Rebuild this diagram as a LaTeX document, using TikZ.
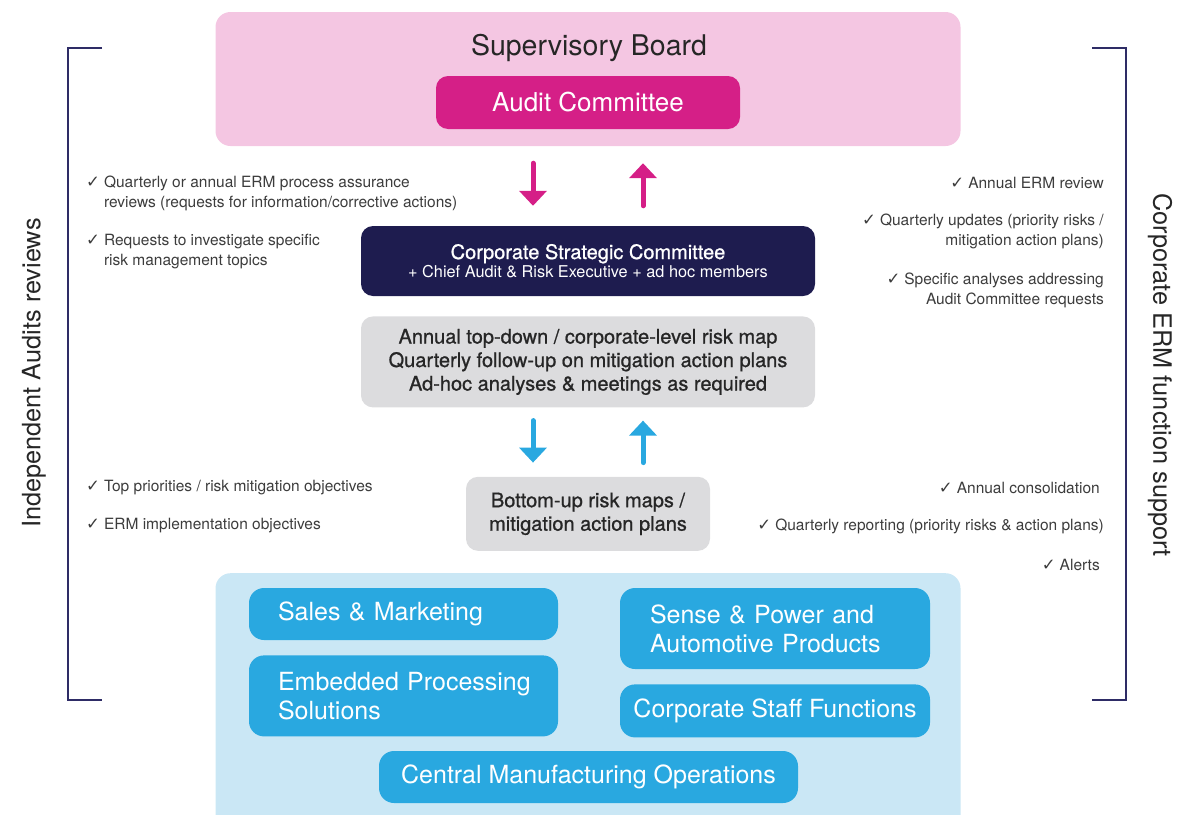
\documentclass[tikz,border=0pt]{standalone}
\usepackage{fontspec}
\setmainfont{TeX Gyre Heros}
\newfontfamily\mediumfont{TeX Gyre Heros}[FakeBold=0.9]
\newfontfamily\symbolfont{DejaVu Sans}
\usepackage{xcolor}
\usetikzlibrary{positioning,arrows.meta}

\definecolor{boardpink}{HTML}{F4C6E2}
\definecolor{auditmag}{HTML}{D51F87}
\definecolor{cscnavy}{HTML}{1E1C4F}
\definecolor{mapgray}{HTML}{DCDCDE}
\definecolor{unitsky}{HTML}{CAE7F5}
\definecolor{unitblue}{HTML}{29A8E0}
\definecolor{bracketnavy}{HTML}{2E2C66}
\definecolor{notegray}{HTML}{3C3C3C}

\newcommand{\tick}{{\symbolfont\fontsize{16.5}{16}\selectfont ✓}}

\tikzset{
  panel/.style={
    rounded corners=15pt,
    inner sep=0pt
  },
  committee/.style={
    rounded corners=12pt,
    align=center,
    inner sep=0pt
  },
  mapbox/.style={
    committee,
    fill=mapgray,
    text=black!85,
    font=\mediumfont\fontsize{20}{23.5}\selectfont
  },
  unit/.style={
    rounded corners=15pt,
    fill=unitblue,
    text=white,
    minimum width=309pt,
    font=\fontsize{25}{29}\selectfont,
    inner xsep=29pt
  },
  note/.style={
    inner sep=0pt,
    text=notegray,
    font=\fontsize{15.5}{20}\selectfont
  },
  side/.style={
    text=black!85,
    font=\fontsize{25.3}{28}\selectfont
  },
  bracket/.style={
    bracketnavy,
    line width=1.6pt
  },
  flow/.style={
    line width=5pt,
    line cap=round,
    -{Triangle[width=27pt,length=15pt]}
  }
}

\begin{document}
\begin{tikzpicture}[x=1pt,y=-1pt]
\useasboundingbox (0,0) rectangle (1198,814);

% board on top
\node[panel, fill=boardpink, minimum width=745pt, minimum height=134pt] (board) at (588,79) {};
\node[text=black!85, font=\fontsize{28.5}{30}\selectfont] (boardtitle) at (589,48) {Supervisory Board};
\node[committee, fill=auditmag, text=white, minimum width=304pt, minimum height=53pt,
  font=\fontsize{26}{28}\selectfont] (audit) at (588,102.5) {Audit Committee};

% committee and risk maps
\node[committee, fill=cscnavy, text=white, minimum width=454pt, minimum height=70pt] (csc) at (588,261)
  {{\mediumfont\fontsize{20}{22}\selectfont Corporate Strategic Committee}\\[1pt]
   {\fontsize{16.3}{17}\selectfont + Chief Audit \& Risk Executive + ad hoc members}};
\node[mapbox, minimum width=454pt, minimum height=91pt, below=20pt of csc] (riskmap)
  {Annual top-down / corporate-level risk map\\
   Quarterly follow-up on mitigation action plans\\
   Ad-hoc analyses \& meetings as required};
\node[mapbox, minimum width=244pt, minimum height=74pt, below=69pt of riskmap] (bottomup)
  {Bottom-up risk maps /\\mitigation action plans};

% operating units
\node[panel, fill=unitsky, minimum width=745pt, minimum height=260pt, anchor=north] (units) at (588,573) {};
\node[unit, text width=251pt, align=left, minimum height=52pt] (sales) at (403.5,614) {Sales \& Marketing};
\node[unit, text width=251pt, align=left, minimum height=81pt, below=15pt of sales] (embedded)
  {\mbox{Embedded Processing}\\Solutions};
\node[unit, text width=250pt, align=left, minimum width=310pt, minimum height=81pt] (sense) at (775,628.5)
  {Sense \& Power and\\Automotive Products};
\node[unit, inner xsep=0pt, minimum width=310pt, minimum height=53pt, below=15pt of sense] (staff)
  {Corporate Staff Functions};
\node[unit, inner xsep=0pt, minimum width=419pt, minimum height=52pt] (cmo) at (588.5,777)
  {Central Manufacturing Operations};

% flows
\draw[flow, auditmag, shorten <=17pt, shorten >=20pt] ([xshift=-55pt]board.south) -- ([xshift=-55pt]csc.north);
\draw[flow, auditmag, shorten <=20pt, shorten >=17pt] ([xshift=55pt]csc.north) -- ([xshift=55pt]board.south);
\draw[flow, unitblue, shorten <=13pt, shorten >=14pt] ([xshift=-55pt]riskmap.south) -- ([xshift=-55pt]bottomup.north);
\draw[flow, unitblue, shorten <=14pt, shorten >=13pt] ([xshift=55pt]bottomup.north) -- ([xshift=55pt]riskmap.south);

% brackets at the sides
\coordinate (lt) at (102,48);
\coordinate (lb) at (102,700);
\coordinate (rt) at (1092,48);
\coordinate (rb) at (1092,700);
\draw[bracket] (lt) -- ++(-34,0) |- (lb);
\draw[bracket] (rt) -- ++(34,0) |- (rb);
\node[side, rotate=90] (audits) at (34,373) {Independent Audits reviews};
\node[side, rotate=-90] (ermsupport) at (1160,375) {Corporate ERM function support};

% left notes
\node[note, anchor=west] (n1) at (86,193) {\begin{tabular}{@{}l@{\hspace{4pt}}l@{}}
  \tick & Quarterly or annual ERM process assurance\\
        & reviews (requests for information/corrective actions)\end{tabular}};
\node[note, anchor=west] (n2) at (86,251) {\begin{tabular}{@{}l@{\hspace{4pt}}l@{}}
  \tick & Requests to investigate specific\\
        & risk management topics\end{tabular}};
\node[note, anchor=west] (n3) at (86,488) {\tick\hspace{4pt}Top priorities / risk mitigation objectives};
\node[note, anchor=west] (n4) at (86,526) {\tick\hspace{4pt}ERM implementation objectives};

% right notes
\node[note, anchor=east] (m1) at (1104,183) {\tick\hspace{4pt}Annual ERM review};
\node[note, anchor=east, align=right] (m2) at (1104,231)
  {\tick\hspace{4pt}Quarterly updates (priority risks /\\mitigation action plans)};
\node[note, anchor=east, align=right] (m3) at (1104,290)
  {\tick\hspace{4pt}Specific analyses addressing\\Audit Committee requests};
\node[note, anchor=east] (m4) at (1100,488) {\tick\hspace{4pt}Annual consolidation};
\node[note, anchor=east] (m5) at (1104,526) {\tick\hspace{4pt}Quarterly reporting (priority risks \& action plans)};
\node[note, anchor=east] (m6) at (1100,565) {\tick\hspace{4pt}Alerts};

\end{tikzpicture}
\end{document}
